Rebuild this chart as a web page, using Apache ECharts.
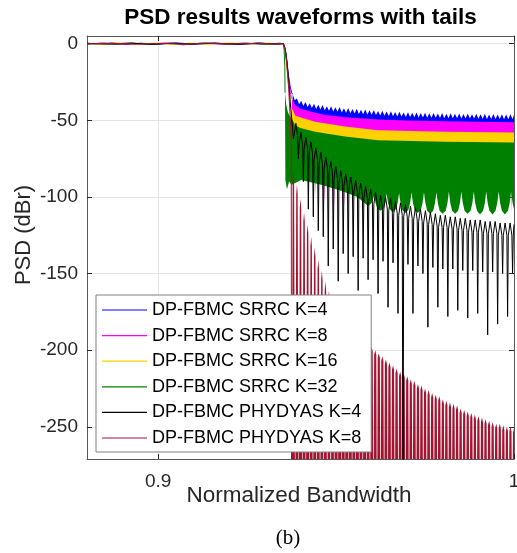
<!DOCTYPE html>
<html>
<head>
<meta charset="utf-8">
<script src="https://cdn.jsdelivr.net/npm/echarts@6/dist/echarts.min.js"></script>
<style>
html,body{margin:0;padding:0;background:#fff;}
#chart{width:517px;height:553px;}
</style>
</head>
<body>
<div id="chart"></div>
<script>
// ---------------- data ----------------
const seriesNames = ['DP-FBMC SRRC K=4','DP-FBMC SRRC K=8','DP-FBMC SRRC K=16','DP-FBMC SRRC K=32','DP-FBMC PHYDYAS K=4','DP-FBMC PHYDYAS K=8'];
const seriesColors = ['#0000FF','#FF00FF','#FFD100','#008000','#000000','#A2142F'];
const xRange = [0.88, 1.0];
const yRange = [-271, 5];
const xTicks = [0.9, 1];
const xTickLabels = ['0.9', '1'];
const yTicks = [0, -50, -100, -150, -200, -250];
const yTickLabels = ['0', '-50', '-100', '-150', '-200', '-250'];

// passband + roll-off edge of each SRRC curve
const srrc4Edge = [[0.8800,0.3],[0.8835,-0.4],[0.8870,0.4],[0.8910,-0.5],[0.8950,0.3],[0.9000,-0.4],[0.9050,0.5],[0.9100,-0.3],[0.9160,0.4],[0.9220,-0.6],[0.9280,0.4],[0.9330,-0.3],[0.9352,0.1],[0.9355,-1],[0.9359,-6],[0.9363,-14],[0.9367,-22],[0.9371,-28],[0.9375,-32],[0.9378,-33]];
const srrc8Edge = [[0.8800,-0.2],[0.8850,0.4],[0.8890,-0.6],[0.8930,0.3],[0.8980,-0.3],[0.9020,0.5],[0.9070,-0.8],[0.9120,0.3],[0.9180,-0.4],[0.9240,0.4],[0.9300,-0.5],[0.9340,0.3],[0.9352,0],[0.9355,-1],[0.9359,-7],[0.9363,-16],[0.9367,-25],[0.9371,-31],[0.9374,-35],[0.9376,-36]];
const srrc16Edge = [[0.8800,0.1],[0.8845,-0.5],[0.8880,0.5],[0.8940,-0.3],[0.8990,0.4],[0.9040,-0.5],[0.9090,0.4],[0.9140,-0.4],[0.9200,0.5],[0.9260,-0.3],[0.9310,0.4],[0.9345,-0.4],[0.9352,0],[0.9355,-1.5],[0.9359,-8],[0.9363,-18],[0.9367,-28],[0.9371,-36],[0.9375,-42]];
const srrc32Edge = [[0.8800,-0.3],[0.8840,0.3],[0.8885,-0.4],[0.8925,0.4],[0.8975,-0.5],[0.9030,0.3],[0.9080,-0.4],[0.9130,0.5],[0.9190,-0.3],[0.9250,0.3],[0.9305,-0.5],[0.9340,0.2],[0.9352,0],[0.9354,-4],[0.9356,-15],[0.93565,-32]];

// stop-band of the SRRC curves: upper and lower edge of the oscillation
const srrc4Top = [[0.9378,-33.0],[0.9384,-37.0],[0.9390,-35.8],[0.9396,-39.5],[0.9402,-37.2],[0.9408,-40.6],[0.9414,-38.0],[0.9420,-41.4],[0.9426,-38.8],[0.9432,-42.0],[0.9438,-39.2],[0.9444,-42.6],[0.9450,-39.9],[0.9456,-43.0],[0.9462,-40.1],[0.9468,-43.4],[0.9474,-40.8],[0.9480,-43.7],[0.9486,-40.9],[0.9492,-44.2],[0.9498,-41.5],[0.9504,-44.5],[0.9510,-41.4],[0.9516,-44.9],[0.9522,-42.1],[0.9528,-45.1],[0.9534,-42.0],[0.9540,-45.4],[0.9546,-42.6],[0.9552,-45.6],[0.9558,-42.5],[0.9564,-45.9],[0.9570,-43.1],[0.9576,-46.0],[0.9582,-42.9],[0.9588,-46.3],[0.9594,-43.5],[0.9600,-46.4],[0.9606,-43.3],[0.9612,-46.6],[0.9618,-43.9],[0.9624,-46.8],[0.9630,-43.8],[0.9636,-47.0],[0.9642,-44.3],[0.9648,-47.2],[0.9654,-44.1],[0.9660,-47.3],[0.9666,-44.6],[0.9672,-47.5],[0.9678,-44.4],[0.9684,-47.6],[0.9690,-44.9],[0.9696,-47.8],[0.9702,-44.7],[0.9708,-47.9],[0.9714,-45.1],[0.9720,-48.0],[0.9726,-44.9],[0.9732,-48.1],[0.9738,-45.3],[0.9744,-48.2],[0.9750,-45.0],[0.9756,-48.3],[0.9762,-45.4],[0.9768,-48.4],[0.9774,-45.2],[0.9780,-48.4],[0.9786,-45.6],[0.9792,-48.5],[0.9798,-45.3],[0.9804,-48.6],[0.9810,-45.7],[0.9816,-48.6],[0.9822,-45.4],[0.9828,-48.7],[0.9834,-45.8],[0.9840,-48.7],[0.9846,-45.5],[0.9852,-48.8],[0.9858,-45.9],[0.9864,-48.8],[0.9870,-45.6],[0.9876,-48.9],[0.9882,-46.0],[0.9888,-48.9],[0.9894,-45.7],[0.9900,-49.0],[0.9906,-46.1],[0.9912,-49.0],[0.9918,-45.8],[0.9924,-49.1],[0.9930,-46.2],[0.9936,-49.1],[0.9942,-45.9],[0.9948,-49.2],[0.9954,-46.2],[0.9960,-49.2],[0.9966,-46.0],[0.9972,-49.3],[0.9978,-46.3],[0.9984,-49.3],[0.9990,-46.1],[0.9996,-49.4],[1.0000,-46.3]];
const srrc4Bottom = [[0.9378,-42],[0.9400,-47],[0.9500,-52],[0.9700,-55],[1.0000,-56]];

const srrc8Top = [[0.9376,-36],[0.9385,-40],[0.9400,-42.5],[0.9441,-45],[0.9470,-46.5],[0.9525,-48],[0.9618,-49.5],[0.9700,-50.2],[0.9806,-50.7],[0.9900,-51],[1.0000,-51.2]];
const srrc8Bottom = [[0.9376,-44],[0.9400,-52],[0.9440,-58],[0.9443,-100],[0.9446,-58],[0.9464,-59],[0.9467,-104],[0.9470,-59],[0.9492,-60],[0.9495,-106],[0.9498,-60],[0.9520,-61],[0.9523,-107],[0.9526,-61],[0.9576,-62],[0.9579,-108],[0.9582,-62],[0.9632,-63],[0.9635,-110],[0.9638,-63],[0.9690,-63],[0.9693,-113],[0.9696,-63],[0.9800,-64],[0.9803,-115],[0.9806,-64],[0.9990,-64],[0.9993,-112],[0.9996,-64],[1.0000,-64]];

const srrc16Top = [[0.9375,-42],[0.9380,-44],[0.9385,-47],[0.9441,-51],[0.9525,-54],[0.9618,-56.5],[0.9806,-57.5],[1.0000,-58]];
const srrc16Bottom = [[0.9375,-52],[0.9400,-58],[0.9600,-66],[1.0000,-68]];

const srrc32Top = [[0.93565,-32],[0.9360,-40],[0.9365,-45],[0.9372,-48],[0.9378,-50],[0.9385,-53.3],[0.9400,-55],[0.9441,-57.5],[0.9525,-60.5],[0.9618,-63],[0.9806,-64],[1.0000,-64.5]];
const srrc32Bottom = [[0.93565,-40],[0.93575,-89],[0.9362,-95],[0.9368,-90],[0.9375,-92],[0.9402,-89],[0.9458,-92],[0.9514,-96],[0.9560,-100],[0.9580,-104],[0.9590,-106],[0.9600,-104],
  [0.9607,-99],[0.9611,-104],[0.9616,-107.5],[0.96245,-109],[0.9633,-107.5],[0.9638,-104],
  [0.9642,-98],[0.9646,-104],[0.9651,-108],[0.96595,-110],[0.9668,-108],[0.9673,-104],
  [0.9677,-97.5],[0.9681,-104],[0.9686,-108.5],[0.96945,-110.5],[0.9703,-108.5],[0.9708,-104],
  [0.9712,-97],[0.9716,-104],[0.9721,-108.5],[0.97295,-110.5],[0.9738,-108.5],[0.9743,-104],
  [0.9747,-97],[0.9751,-104],[0.9756,-109],[0.97645,-111],[0.9773,-109],[0.9778,-104],
  [0.9782,-97],[0.9786,-104],[0.9791,-109],[0.97995,-111],[0.9808,-109],[0.9813,-104],
  [0.9817,-96.5],[0.9821,-104],[0.9826,-109],[0.98345,-111],[0.9843,-109],[0.9848,-104],
  [0.9852,-96.5],[0.9856,-104],[0.9861,-109],[0.98695,-111],[0.9878,-109],[0.9883,-104],
  [0.9887,-96.5],[0.9891,-104],[0.9896,-109],[0.99045,-111.5],[0.9913,-109],[0.9918,-104],
  [0.9922,-96.5],[0.9926,-104],[0.9931,-109],[0.99395,-111.5],[0.9948,-109],[0.9953,-104],
  [0.9957,-96.5],[0.9961,-104],[0.9966,-109],[0.99745,-111.5],[0.9983,-109],[0.9988,-104],
  [0.9992,-96.5],[0.9996,-104],[1.0000,-108]];

// PHYDYAS K=4: passband, roll-off, then lobes (null, shoulder, peak, shoulder, ...)
const phydyas4 = [[0.8800,0.2],[0.8860,-0.3],[0.8920,0.4],[0.8980,-0.4],[0.9040,0.3],[0.9100,-0.3],[0.9160,0.3],[0.9230,-0.4],[0.9290,0.3],[0.9340,-0.3],[0.9352,0],[0.9357,-3],[0.9362,-12],[0.9367,-25],[0.9371,-38],[0.9375,-48],
  [0.9380,-62],[0.9382,-60],[0.9387,-52],[0.9392,-60],
  [0.9394,-75],[0.9396,-66],[0.9401,-58],[0.9406,-66],
  [0.9408,-90],[0.9410,-69],[0.9415,-61],[0.9420,-69],
  [0.9422,-108],[0.9424,-72],[0.9429,-64],[0.9434,-72],
  [0.9436,-113],[0.9438,-76],[0.9443,-68],[0.9448,-76],
  [0.9450,-122],[0.9452,-79],[0.9457,-71],[0.9462,-79],
  [0.9464,-126],[0.9466,-82],[0.9471,-74],[0.9476,-82],
  [0.9478,-145],[0.9480,-85],[0.9485,-77],[0.9490,-85],
  [0.9492,-134],[0.9494,-88],[0.9499,-80],[0.9504,-88],
  [0.9506,-155],[0.9508,-91],[0.9513,-83],[0.9518,-91],
  [0.9520,-137],[0.9522,-93],[0.9527,-85],[0.9532,-93],
  [0.9534,-150],[0.9536,-95],[0.9541,-87],[0.9546,-95],
  [0.9548,-139],[0.9550,-97],[0.9555,-89],[0.9560,-97],
  [0.9562,-161],[0.9564,-99],[0.9569,-91],[0.9574,-99],
  [0.9576,-140],[0.9578,-101],[0.9583,-93],[0.9588,-101],
  [0.9590,-154],[0.9592,-103],[0.9597,-95],[0.9602,-103],
  [0.9604,-141],[0.9606,-105],[0.9611,-97],[0.9616,-105],
  [0.9618,-163],[0.9620,-107],[0.9625,-99],[0.9630,-107],
  [0.9632,-142],[0.9634,-108],[0.9639,-100],[0.9644,-108],
  [0.9646,-172],[0.9648,-109],[0.9653,-101],[0.9658,-109],
  [0.9660,-143],[0.9662,-111],[0.9667,-103],[0.9672,-111],
  [0.9674,-176],[0.9676,-112],[0.9681,-104],[0.9686,-112],
  [0.9688,-330],[0.9690,-113],[0.9695,-105],[0.9700,-113],
  [0.9702,-144],[0.9704,-114],[0.9709,-106],[0.9714,-114],
  [0.9716,-176],[0.9718,-115],[0.9723,-107],[0.9728,-115],
  [0.9730,-145],[0.9732,-116],[0.9737,-108],[0.9742,-116],
  [0.9744,-150],[0.9746,-117],[0.9751,-109],[0.9756,-117],
  [0.9758,-185],[0.9760,-118],[0.9765,-110],[0.9770,-118],
  [0.9772,-146],[0.9774,-119],[0.9779,-111],[0.9784,-119],
  [0.9786,-172],[0.9788,-120],[0.9793,-112],[0.9798,-120],
  [0.9800,-147],[0.9802,-120],[0.9807,-112],[0.9812,-120],
  [0.9814,-178],[0.9816,-121],[0.9821,-113],[0.9826,-121],
  [0.9828,-147],[0.9830,-121],[0.9835,-113],[0.9840,-121],
  [0.9842,-174],[0.9844,-122],[0.9849,-114],[0.9854,-122],
  [0.9856,-148],[0.9858,-122],[0.9863,-114],[0.9868,-122],
  [0.9870,-179],[0.9872,-123],[0.9877,-115],[0.9882,-123],
  [0.9884,-148],[0.9886,-123],[0.9891,-115],[0.9896,-123],
  [0.9898,-176],[0.9900,-123],[0.9905,-115],[0.9910,-123],
  [0.9912,-149],[0.9914,-124],[0.9919,-116],[0.9924,-124],
  [0.9926,-190],[0.9928,-124],[0.9933,-116],[0.9938,-124],
  [0.9940,-149],[0.9942,-124],[0.9947,-116],[0.9952,-124],
  [0.9954,-183],[0.9956,-125],[0.9961,-117],[0.9966,-125],
  [0.9968,-150],[0.9970,-125],[0.9975,-117],[0.9980,-125],
  [0.9982,-178],[0.9984,-125],[0.9989,-117],[0.9994,-125],
  [0.9996,-150],[0.9998,-125],[1.0000,-118]];

// PHYDYAS K=8: passband and roll-off
const phydyas8Edge = [[0.8800,-0.1],[0.8870,0.3],[0.8940,-0.4],[0.9000,0.2],[0.9070,-0.3],[0.9140,0.3],[0.9210,-0.3],[0.9280,0.3],[0.9330,-0.2],[0.9352,0],[0.9357,-4],[0.9362,-15],[0.9367,-30],[0.9371,-48],[0.9374,-65],[0.9375,-330]];
// PHYDYAS K=8 stop-band lobes: shoulder, peak, shoulder, then a null below the axis
const phydyas8Lobes = [[0.9375,-330],
  [0.9378,-88],[0.9380,-82],[0.9382,-88],[0.9385,-330],
  [0.9388,-98],[0.9390,-92],[0.9392,-98],[0.9395,-330],
  [0.9398,-107],[0.9400,-101],[0.9402,-107],[0.9405,-330],
  [0.9408,-116],[0.9410,-110],[0.9412,-116],[0.9415,-330],
  [0.9418,-124],[0.9420,-118],[0.9422,-124],[0.9425,-330],
  [0.9428,-132],[0.9430,-126],[0.9432,-132],[0.9435,-330],
  [0.9438,-139],[0.9440,-133],[0.9442,-139],[0.9445,-330],
  [0.9448,-147],[0.9450,-141],[0.9452,-147],[0.9455,-330],
  [0.9458,-154],[0.9460,-148],[0.9462,-154],[0.9465,-330],
  [0.9468,-161],[0.9470,-155],[0.9472,-161],[0.9475,-330],
  [0.9478,-167],[0.9480,-161],[0.9482,-167],[0.9485,-330],
  [0.9488,-170],[0.9490,-164],[0.9492,-170],[0.9495,-330],
  [0.9497,-171],[0.9500,-168],[0.9503,-171],[0.9505,-330],
  [0.9507,-175],[0.9510,-172],[0.9513,-175],[0.9515,-330],
  [0.9517,-178],[0.9520,-175],[0.9523,-178],[0.9525,-330],
  [0.9527,-181],[0.9530,-178],[0.9533,-181],[0.9535,-330],
  [0.9537,-184],[0.9540,-181],[0.9543,-184],[0.9545,-330],
  [0.9547,-187],[0.9550,-184],[0.9553,-187],[0.9555,-330],
  [0.9557,-190],[0.9560,-187],[0.9563,-190],[0.9565,-330],
  [0.9567,-193],[0.9570,-190],[0.9573,-193],[0.9575,-330],
  [0.9577,-195],[0.9580,-192],[0.9583,-195],[0.9585,-330],
  [0.9587,-198],[0.9590,-195],[0.9593,-198],[0.9595,-330],
  [0.9597,-201],[0.9600,-198],[0.9603,-201],[0.9605,-330],
  [0.9607,-203],[0.9610,-200],[0.9613,-203],[0.9615,-330],
  [0.9617,-205],[0.9620,-202],[0.9623,-205],[0.9625,-330],
  [0.9627,-207],[0.9630,-204],[0.9633,-207],[0.9635,-330],
  [0.9637,-209],[0.9640,-206],[0.9643,-209],[0.9645,-330],
  [0.9647,-211],[0.9650,-208],[0.9653,-211],[0.9655,-330],
  [0.9657,-213],[0.9660,-210],[0.9663,-213],[0.9665,-330],
  [0.9667,-215],[0.9670,-212],[0.9673,-215],[0.9675,-330],
  [0.9677,-217],[0.9680,-214],[0.9683,-217],[0.9685,-330],
  [0.9687,-218],[0.9690,-215],[0.9693,-218],[0.9695,-330],
  [0.9697,-220],[0.9700,-217],[0.9703,-220],[0.9705,-330],
  [0.9707,-222],[0.9710,-219],[0.9713,-222],[0.9715,-330],
  [0.9717,-223],[0.9720,-220],[0.9723,-223],[0.9725,-330],
  [0.9727,-225],[0.9730,-222],[0.9733,-225],[0.9735,-330],
  [0.9737,-226],[0.9740,-223],[0.9743,-226],[0.9745,-330],
  [0.9747,-228],[0.9750,-225],[0.9753,-228],[0.9755,-330],
  [0.9757,-229],[0.9760,-226],[0.9763,-229],[0.9765,-330],
  [0.9767,-231],[0.9770,-228],[0.9773,-231],[0.9775,-330],
  [0.9777,-232],[0.9780,-229],[0.9783,-232],[0.9785,-330],
  [0.9787,-233],[0.9790,-230],[0.9793,-233],[0.9795,-330],
  [0.9797,-235],[0.9800,-232],[0.9803,-235],[0.9805,-330],
  [0.9807,-236],[0.9810,-233],[0.9813,-236],[0.9815,-330],
  [0.9817,-237],[0.9820,-234],[0.9823,-237],[0.9825,-330],
  [0.9827,-238],[0.9830,-235],[0.9833,-238],[0.9835,-330],
  [0.9837,-239],[0.9840,-236],[0.9843,-239],[0.9845,-330],
  [0.9847,-241],[0.9850,-238],[0.9853,-241],[0.9855,-330],
  [0.9857,-242],[0.9860,-239],[0.9863,-242],[0.9865,-330],
  [0.9867,-243],[0.9870,-240],[0.9873,-243],[0.9875,-330],
  [0.9877,-244],[0.9880,-241],[0.9883,-244],[0.9885,-330],
  [0.9887,-245],[0.9890,-242],[0.9893,-245],[0.9895,-330],
  [0.9897,-246],[0.9900,-243],[0.9903,-246],[0.9905,-330],
  [0.9907,-247],[0.9910,-244],[0.9913,-247],[0.9915,-330],
  [0.9917,-248],[0.9920,-245],[0.9923,-248],[0.9925,-330],
  [0.9927,-249],[0.9930,-246],[0.9933,-249],[0.9935,-330],
  [0.9937,-250],[0.9940,-247],[0.9943,-250],[0.9945,-330],
  [0.9947,-251],[0.9950,-248],[0.9953,-251],[0.9955,-330],
  [0.9957,-251],[0.9960,-248],[0.9963,-251],[0.9965,-330],
  [0.9967,-252],[0.9970,-249],[0.9973,-252],[0.9975,-330],
  [0.9977,-253],[0.9980,-250],[0.9983,-253],[0.9985,-330],
  [0.9987,-253],[0.9990,-250],[0.9993,-253],[0.9995,-330],
  [0.9997,-254],[1.0000,-251]];

// ---------------- chart ----------------
const FONT = '"Liberation Sans", Arial, Helvetica, sans-serif';
const chart = echarts.init(document.getElementById('chart'), null, {renderer: 'canvas'});

function tickLabel(list, labels) {
  return function (v) {
    for (let i = 0; i < list.length; i++) if (Math.abs(list[i] - v) < 1e-9) return labels[i];
    return '';
  };
}

function lineSeries(idx, data, z) {
  return {
    name: seriesNames[idx], type: 'line', data: data, xAxisIndex: 0, yAxisIndex: 0,
    symbol: 'none', showSymbol: false, smooth: false, clip: true, silent: true,
    lineStyle: {color: seriesColors[idx], width: 1}, itemStyle: {color: seriesColors[idx]},
    z: z, animation: false
  };
}
// filled region: upper edge = top, lower edge = bottom (or the axis floor when bottom is null)
function bandSeries(idx, top, bottom, z) {
  const anchor = top[1] ? top[1] : top[0];
  return {
    name: seriesNames[idx], type: 'custom', xAxisIndex: 0, yAxisIndex: 0,
    data: [[anchor[0], anchor[1]]], encode: {x: 0, y: 1}, clip: true, silent: true,
    itemStyle: {color: seriesColors[idx]}, z: z,
    renderItem: function (params, api) {
      const pts = [];
      top.forEach(p => pts.push(api.coord(p)));
      if (bottom) {
        for (let i = bottom.length - 1; i >= 0; i--) pts.push(api.coord(bottom[i]));
      } else {
        pts.push(api.coord([top[top.length - 1][0], yRange[0]]));
        pts.push(api.coord([top[0][0], yRange[0]]));
      }
      return {type: 'polygon', shape: {points: pts}, style: {fill: seriesColors[idx], stroke: null}};
    }
  };
}

const axisLineStyle = {color: '#595959', width: 1};
const tickStyle = {color: '#262626', width: 1};

const option = {
  animation: false,
  backgroundColor: '#ffffff',
  grid: {left: 87, right: 3, top: 36, bottom: 94, containLabel: false, outerBoundsMode: 'none'},
  xAxis: [
    {type: 'value', min: xRange[0], max: xRange[1], position: 'bottom',
     axisLine: {show: true, onZero: false, lineStyle: axisLineStyle},
     axisTick: {show: true, inside: true, length: 5, customValues: xTicks, lineStyle: tickStyle},
     axisLabel: {show: true, customValues: xTicks, formatter: tickLabel(xTicks, xTickLabels), color: '#262626', fontSize: 19, fontFamily: FONT, margin: 13},
     splitLine: {show: true, lineStyle: {color: '#e4e4e4', width: 1}}},
    {type: 'value', min: xRange[0], max: xRange[1], position: 'top',
     axisLine: {show: true, onZero: false, lineStyle: axisLineStyle},
     axisTick: {show: true, inside: true, length: 5, customValues: xTicks, lineStyle: tickStyle},
     axisLabel: {show: false}, splitLine: {show: false}}
  ],
  yAxis: [
    {type: 'value', min: yRange[0], max: yRange[1], position: 'left',
     axisLine: {show: true, onZero: false, lineStyle: axisLineStyle},
     axisTick: {show: true, inside: true, length: 5, customValues: yTicks, lineStyle: tickStyle},
     axisLabel: {show: true, customValues: yTicks, formatter: tickLabel(yTicks, yTickLabels), color: '#262626', fontSize: 19, fontFamily: FONT, margin: 9},
     splitLine: {show: true, lineStyle: {color: '#e4e4e4', width: 1}}},
    {type: 'value', min: yRange[0], max: yRange[1], position: 'right',
     axisLine: {show: true, onZero: false, lineStyle: axisLineStyle},
     axisTick: {show: true, inside: true, length: 5, customValues: yTicks, lineStyle: tickStyle},
     axisLabel: {show: false}, splitLine: {show: false}}
  ],
  legend: {
    show: true, orient: 'vertical', left: 96, top: 295, padding: [6, 10, 5, 6],
    itemWidth: 45, itemHeight: 18, itemGap: 7.6, selectedMode: false,
    icon: 'path://M0,0L45,0L45,1.2L0,1.2Z', symbolKeepAspect: true,
    data: seriesNames,
    textStyle: {fontSize: 18, lineHeight: 18, color: '#000', fontFamily: FONT},
    borderColor: '#808080', borderWidth: 1, borderRadius: 0, backgroundColor: '#ffffff', z: 20
  },
  graphic: [
    {type: 'text', x: 300.5, y: 17.5, z: 30, silent: true,
     style: {text: 'PSD results waveforms with tails', fill: '#000', font: 'bold 22.5px ' + FONT, align: 'center', verticalAlign: 'middle', textAlign: 'center', textVerticalAlign: 'middle'}},
    {type: 'text', x: 299, y: 496, z: 30, silent: true,
     style: {text: 'Normalized Bandwidth', fill: '#262626', font: '22.5px ' + FONT, align: 'center', verticalAlign: 'middle', textAlign: 'center', textVerticalAlign: 'middle'}},
    {type: 'text', x: 24, y: 235, rotation: Math.PI / 2, z: 30, silent: true,
     style: {text: 'PSD (dBr)', fill: '#262626', font: '22px ' + FONT, align: 'center', verticalAlign: 'middle', textAlign: 'center', textVerticalAlign: 'middle'}},
    {type: 'text', x: 288, y: 538, z: 30, silent: true,
     style: {text: '(b)', fill: '#000', font: '21px "Liberation Serif", "Times New Roman", serif', align: 'center', verticalAlign: 'middle', textAlign: 'center', textVerticalAlign: 'middle'}}
  ],
  series: [
    lineSeries(0, srrc4Edge, 2),
    lineSeries(1, srrc8Edge, 3),
    lineSeries(2, srrc16Edge, 4),
    lineSeries(3, srrc32Edge, 5),
    lineSeries(4, phydyas4, 8),
    lineSeries(5, phydyas8Edge, 9),
    bandSeries(0, srrc4Top, srrc4Bottom, 2),
    bandSeries(1, srrc8Top, srrc8Bottom, 3),
    bandSeries(2, srrc16Top, srrc16Bottom, 4),
    bandSeries(3, srrc32Top, srrc32Bottom, 5),
    bandSeries(5, phydyas8Lobes, null, 7)
  ]
};
chart.setOption(option);
</script>
</body>
</html>
